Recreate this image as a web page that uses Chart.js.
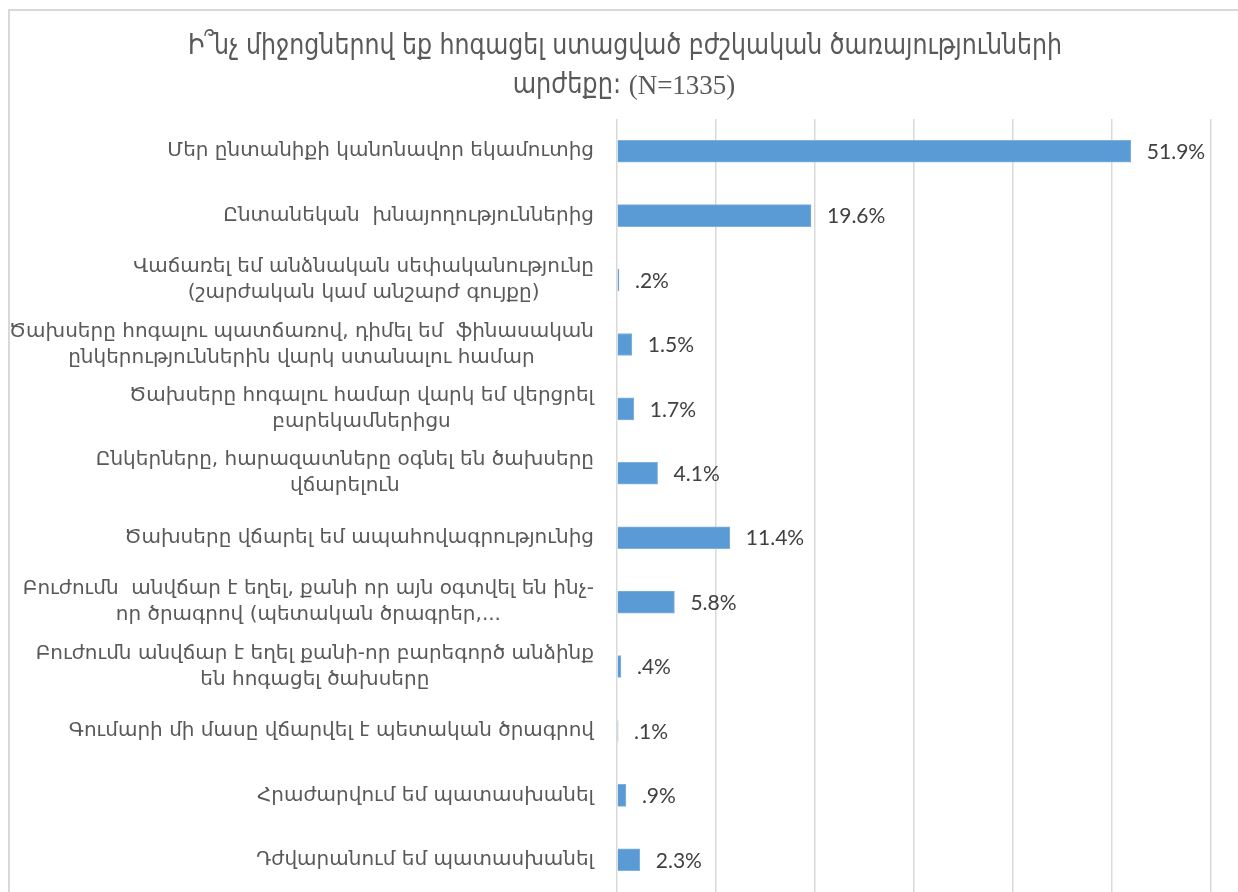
<!DOCTYPE html>
<html><head><meta charset="utf-8">
<script src="https://cdn.jsdelivr.net/npm/chart.js@4.4.0/dist/chart.umd.min.js"></script>
<style>html,body{margin:0;padding:0;background:#fff;overflow:hidden}</style>
</head><body>
<canvas id="c" width="1238" height="892"></canvas>
<script>
const titleLine1 = 'Ի՞նչ միջոցներով եք հոգացել ստացված բժշկական ծառայությունների';
const titleLine2a = 'արժեքը: ';
const titleLine2b = '(N=1335)';
const categories = [
  ['Մեր ընտանիքի կանոնավոր եկամուտից'],
  ['Ընտանեկան  խնայողություններից'],
  ['Վաճառել եմ անձնական սեփականությունը', '(շարժական կամ անշարժ գույքը)'],
  ['Ծախսերը հոգալու պատճառով, դիմել եմ  ֆինասական', 'ընկերություններին վարկ ստանալու համար'],
  ['Ծախսերը hոգալու համար վարկ եմ վերցրել', 'բարեկամներիցս'],
  ['Ընկերները, հարազատները օգնել են ծախսերը', 'վճարելուն'],
  ['Ծախսերը վճարել եմ ապահովագրությունից'],
  ['Բուժումն  անվճար է եղել, քանի որ այն օգտվել են ինչ-', 'որ ծրագրով (պետական ծրագրեր,...'],
  ['Բուժումն անվճար է եղել քանի-որ բարեգործ անձինք', 'են hոգացել ծախսերը'],
  ['Գումարի մի մասը վճարվել է պետական ծրագրով'],
  ['Հրաժարվում եմ պատասխանել'],
  ['Դժվարանում եմ պատասխանել']
];
const values = [51.9, 19.6, 0.2, 1.5, 1.7, 4.1, 11.4, 5.8, 0.4, 0.1, 0.9, 2.3];
const xMin = 0, xMax = 60, xStep = 10;

function fmt(v){ return v.toFixed(1).replace(/^0/, '') + '%'; }

const framePlugin = {
  id: 'frame',
  beforeDraw(chart){
    const ctx = chart.ctx;
    ctx.save();
    ctx.fillStyle = '#fff';
    ctx.fillRect(0,0,chart.width,chart.height);
    ctx.strokeStyle = '#d9d9d9';
    ctx.lineWidth = 2;
    ctx.strokeRect(9, 10, 1400, 1000);
    ctx.restore();
  }
};

const titlePlugin = {
  id: 'customTitle',
  afterDraw(chart){
    const ctx = chart.ctx;
    ctx.save();
    ctx.fillStyle = '#595959';
    ctx.textBaseline = 'middle';
    ctx.textAlign = 'center';
    ctx.font = '28px "DejaVu Sans Condensed", "DejaVu Sans"';
    ctx.fillText(titleLine1, 625, 47, 874);
    const fA = '28px "DejaVu Sans Condensed", "DejaVu Sans"';
    const fB = '27px "Liberation Serif", serif';
    ctx.font = fA; const wA = Math.min(ctx.measureText(titleLine2a).width, 116);
    ctx.font = fB; const wB = ctx.measureText(titleLine2b).width;
    const x0 = 624 - (wA + wB)/2;
    ctx.textAlign = 'left';
    ctx.font = fA; ctx.fillText(titleLine2a, x0, 86, 116);
    ctx.font = fB; ctx.fillText(titleLine2b, x0 + wA, 87);
    ctx.restore();
  }
};

const labelPlugin = {
  id: 'catLabels',
  afterDraw(chart){
    const ctx = chart.ctx, ys = chart.scales.y;
    const right = chart.chartArea.left - 23;
    ctx.save();
    ctx.fillStyle = '#595959';
    ctx.textBaseline = 'middle';
    ctx.textAlign = 'center';
    ctx.font = '20px "DejaVu Sans"';
    const lh = 26;
    categories.forEach((lines, i) => {
      const cy = ys.getPixelForValue(i);
      const w = Math.max(...lines.map(l => ctx.measureText(l.trim()).width));
      const cx = right - w/2;
      const n = lines.length;
      lines.forEach((l, j) => ctx.fillText(l.trim(), cx, cy + (j - (n-1)/2) * lh));
    });
    ctx.restore();
  }
};

const valuePlugin = {
  id: 'valLabels',
  afterDatasetsDraw(chart){
    const ctx = chart.ctx;
    const meta = chart.getDatasetMeta(0);
    ctx.save();
    ctx.fillStyle = '#404040';
    ctx.textBaseline = 'middle';
    ctx.textAlign = 'left';
    ctx.font = '21px Lato';
    meta.data.forEach((bar, i) => {
      ctx.fillText(fmt(values[i]), bar.x + 16, bar.y + 1);
    });
    ctx.restore();
  }
};

new Chart(document.getElementById('c'), {
  type: 'bar',
  data: {
    labels: categories,
    datasets: [{
      data: values,
      backgroundColor: '#5B9BD5',
      borderColor: '#7FB1DF',
      borderWidth: 1,
      barThickness: 22
    }]
  },
  plugins: [framePlugin, titlePlugin, labelPlugin, valuePlugin],
  options: {
    indexAxis: 'y',
    responsive: false,
    animation: false,
    events: [],
    layout: { padding: { left: 617, top: 119, right: 27, bottom: 0 } },
    plugins: { legend: { display: false }, title: { display: false }, tooltip: { enabled: false } },
    scales: {
      x: {
        type: 'linear', min: xMin, max: xMax,
        ticks: { display: false, stepSize: xStep },
        grid: { color: '#d9d9d9', lineWidth: 1.5, drawTicks: false },
        border: { display: false },
        afterFit(s){ s.height = 0; }
      },
      y: {
        ticks: { display: false },
        grid: { display: false },
        border: { display: false },
        afterFit(s){ s.width = 0; }
      }
    }
  }
});
</script>
</body></html>
